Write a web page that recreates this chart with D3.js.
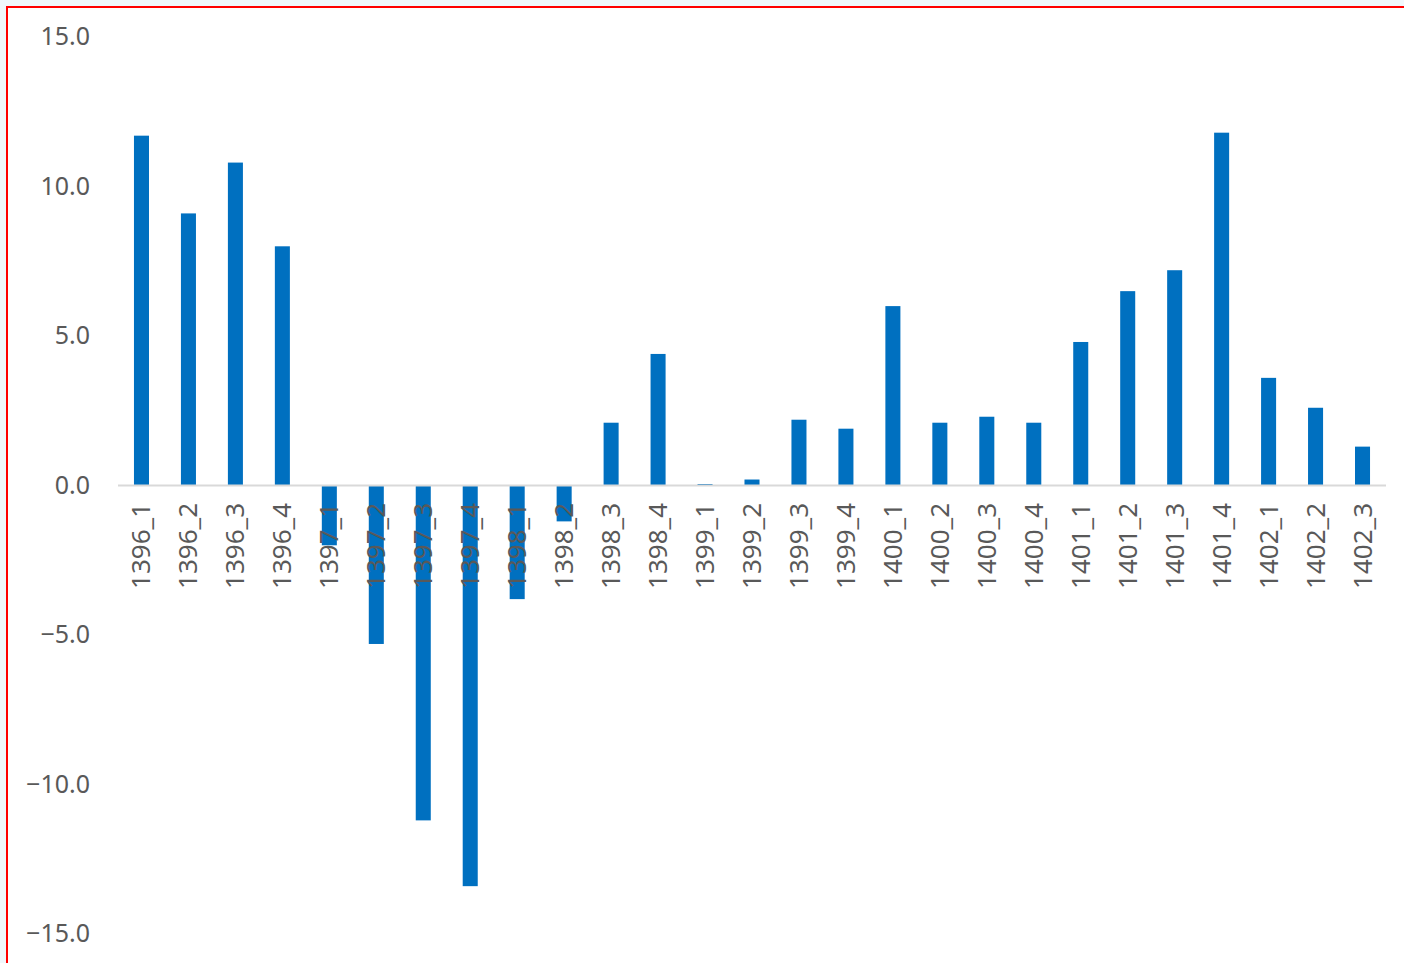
<!DOCTYPE html>
<html>
<head>
<meta charset="utf-8">
<script src="https://cdn.jsdelivr.net/npm/d3@7"></script>
<style>
  html, body { margin: 0; padding: 0; background: #f0f8fc; overflow: hidden; }
  svg { display: block; }
</style>
</head>
<body>
<script>
// quarters (Persian calendar year_quarter)
var categories = ["1396_1","1396_2","1396_3","1396_4","1397_1","1397_2","1397_3","1397_4",
  "1398_1","1398_2","1398_3","1398_4","1399_1","1399_2","1399_3","1399_4",
  "1400_1","1400_2","1400_3","1400_4","1401_1","1401_2","1401_3","1401_4",
  "1402_1","1402_2","1402_3"];
var values = [11.7, 9.1, 10.8, 8.0, -2.0, -5.3, -11.2, -13.4,
  -3.8, -1.2, 2.1, 4.4, 0.05, 0.2, 2.2, 1.9,
  6.0, 2.1, 2.3, 2.1, 4.8, 6.5, 7.2, 11.8,
  3.6, 2.6, 1.3];
var yTicks = [15, 10, 5, 0, -5, -10, -15];

var width = 1404, height = 963;

var svg = d3.select("body").append("svg")
  .attr("width", width)
  .attr("height", height);

// white chart area with red frame (runs off right and bottom edges)
svg.append("rect")
  .attr("x", 7).attr("y", 7)
  .attr("width", width + 10).attr("height", height + 10)
  .attr("fill", "#ffffff")
  .attr("stroke", "#ff0000")
  .attr("stroke-width", 2);

var x = d3.scaleBand()
  .domain(categories)
  .range([118, 1386])
  .paddingInner(0.68)
  .paddingOuter(0.34);

var y = d3.scaleLinear()
  .domain([-15, 15])
  .range([934, 37]);

// y axis labels only
var yAxis = svg.append("g")
  .attr("transform", "translate(90,0)")
  .call(d3.axisLeft(y).tickValues(yTicks).tickFormat(d3.format(".1f")).tickSize(0).tickPadding(0));
yAxis.select(".domain").remove();
yAxis.selectAll("text")
  .attr("fill", "#595959")
  .attr("dy", "0.3em")
  .style("font-family", "'Noto Sans', 'Open Sans', sans-serif")
  .style("font-size", "25px");

// bars
svg.selectAll(".bar")
  .data(values)
  .enter()
  .append("rect")
  .attr("class", "bar")
  .attr("x", function(d, i){ return x(categories[i]); })
  .attr("width", x.bandwidth())
  .attr("y", function(d){ return y(Math.max(0, d)); })
  .attr("height", function(d){ return Math.abs(y(d) - y(0)); })
  .attr("fill", "#0070c0");

// zero line
svg.append("line")
  .attr("x1", 118).attr("x2", 1386)
  .attr("y1", y(0)).attr("y2", y(0))
  .attr("stroke", "#d9d9d9")
  .attr("stroke-width", 2);

// category labels, rotated
svg.selectAll(".xlab")
  .data(categories)
  .enter()
  .append("text")
  .attr("class", "xlab")
  .attr("transform", function(d){
    return "translate(" + (x(d) + x.bandwidth() / 2 + 9) + ",503) rotate(-90)";
  })
  .attr("text-anchor", "end")
  .attr("fill", "#595959")
  .style("font-family", "'Noto Sans', 'Open Sans', sans-serif")
  .style("font-size", "26px")
  .text(function(d){ return d; });
</script>
</body>
</html>
